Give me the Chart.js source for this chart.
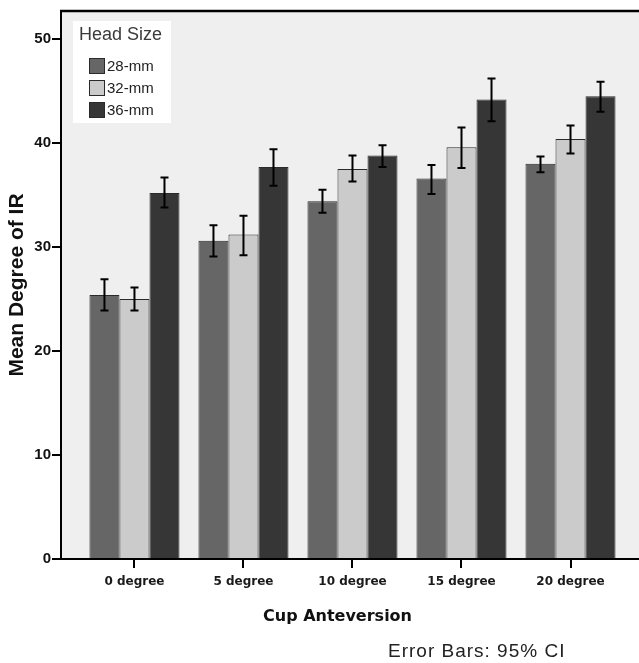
<!DOCTYPE html>
<html><head><meta charset="utf-8">
<style>html,body{margin:0;padding:0;background:#fff;}canvas{display:block;}</style>
<script src="https://cdn.jsdelivr.net/npm/chart.js@4.4.1/dist/chart.umd.min.js"></script>
</head><body>
<canvas id="c" width="639" height="663"></canvas>
<script>
const categories = ['0 degree', '5 degree', '10 degree', '15 degree', '20 degree'];
const seriesNames = ['28-mm', '32-mm', '36-mm'];
const mean28 = [25.4, 30.6, 34.4, 36.6, 38.0];
const mean32 = [25.0, 31.2, 37.5, 39.6, 40.4];
const mean36 = [35.2, 37.7, 38.8, 44.2, 44.5];
const ciLow28 = [23.9, 29.1, 33.3, 35.1, 37.2];
const ciHigh28 = [26.9, 32.1, 35.5, 37.9, 38.7];
const ciLow32 = [23.9, 29.2, 36.3, 37.6, 39.0];
const ciHigh32 = [26.1, 33.0, 38.8, 41.5, 41.7];
const ciLow36 = [33.8, 35.9, 37.7, 42.1, 43.0];
const ciHigh36 = [36.7, 39.4, 39.8, 46.2, 45.9];
const yTicks = [0, 10, 20, 30, 40, 50];

const fills = ['#666666', '#cbcbcb', '#363636'];
const means = [mean28, mean32, mean36];
const lows = [ciLow28, ciLow32, ciLow36];
const highs = [ciHigh28, ciHigh32, ciHigh36];

const datasets = seriesNames.map((name, s) => ({
  label: name,
  data: categories.map((c, i) => ({x: i, y: means[s][i]})),
  ciLow: lows[s],
  ciHigh: highs[s],
  backgroundColor: fills[s],
  borderColor: '#2a2a2a',
  borderWidth: 1,
  barPercentage: 1.0,
  categoryPercentage: 0.826,
  clip: false
}));

const framePlugin = {
  id: 'frame',
  beforeDraw(chart) {
    const {ctx, chartArea: a} = chart;
    ctx.save();
    ctx.fillStyle = '#efefef';
    ctx.fillRect(a.left, a.top, chart.width - a.left, a.bottom - a.top);
    ctx.strokeStyle = '#000';
    ctx.lineWidth = 2.5;
    ctx.beginPath();
    ctx.moveTo(a.left - 1, a.top);
    ctx.lineTo(chart.width, a.top);
    ctx.stroke();
    ctx.restore();
  },
  afterDraw(chart) {
    const {ctx, chartArea: a} = chart;
    ctx.save();
    // continue x axis line to the edge of the frame
    const yAxis = Math.round(chart.scales.x.top);
    ctx.strokeStyle = '#000';
    ctx.lineWidth = 2;
    ctx.beginPath();
    ctx.moveTo(a.right - 2, yAxis);
    ctx.lineTo(chart.width, yAxis);
    ctx.stroke();
    // legend box
    ctx.fillStyle = '#ffffff';
    ctx.fillRect(73, 21, 98, 102);
    ctx.fillStyle = '#3a3a3a';
    ctx.font = '18px "Liberation Sans"';
    ctx.textBaseline = 'alphabetic';
    ctx.textAlign = 'left';
    ctx.fillText('Head Size', 79, 40);
    chart.data.datasets.forEach((ds, k) => {
      const y = 58 + k * 22;
      ctx.fillStyle = ds.backgroundColor;
      ctx.fillRect(89, y, 16, 16);
      ctx.strokeStyle = '#2a2a2a';
      ctx.lineWidth = 1;
      ctx.strokeRect(89.5, y + 0.5, 15, 15);
      ctx.fillStyle = '#222';
      ctx.font = '15px "Liberation Sans"';
      ctx.textBaseline = 'middle';
      ctx.fillText(ds.label, 107, y + 8.5);
    });
    // footnote
    ctx.fillStyle = '#222';
    ctx.font = '19px "Liberation Sans"';
    if ('letterSpacing' in ctx) ctx.letterSpacing = '1px';
    ctx.textBaseline = 'middle';
    ctx.fillText('Error Bars: 95% CI', 388, 652);
    ctx.restore();
  }
};

const errorBarPlugin = {
  id: 'errbars',
  afterDatasetsDraw(chart) {
    const ctx = chart.ctx;
    const yScale = chart.scales.y;
    ctx.save();
    ctx.strokeStyle = '#000';
    ctx.lineWidth = 2;
    chart.data.datasets.forEach((ds, s) => {
      const meta = chart.getDatasetMeta(s);
      meta.data.forEach((bar, i) => {
        const x = bar.x;
        const yl = yScale.getPixelForValue(ds.ciLow[i]);
        const yh = yScale.getPixelForValue(ds.ciHigh[i]);
        ctx.beginPath();
        ctx.moveTo(x, yl); ctx.lineTo(x, yh);
        ctx.moveTo(x - 4, yl); ctx.lineTo(x + 4, yl);
        ctx.moveTo(x - 4, yh); ctx.lineTo(x + 4, yh);
        ctx.stroke();
      });
    });
    ctx.restore();
  }
};

new Chart(document.getElementById('c'), {
  type: 'bar',
  data: {datasets},
  options: {
    responsive: false,
    devicePixelRatio: 1,
    animation: false,
    layout: {padding: {top: 11, left: 0, right: 25, bottom: 0}},
    plugins: {legend: {display: false}, tooltip: {enabled: false}},
    scales: {
      x: {
        type: 'linear',
        min: -0.674,
        max: 4.399,
        offset: false,
        afterBuildTicks: s => { s.ticks = categories.map((c, i) => ({value: i})); },
        afterFit: s => { s.height = 104; },
        ticks: {
          callback: v => categories[v],
          autoSkip: false, maxRotation: 0, minRotation: 0,
          font: {family: 'DejaVu Sans', size: 12, weight: 'bold'},
          color: '#1a1a1a',
          padding: 7
        },
        grid: {drawOnChartArea: false, drawTicks: true, tickLength: 9, color: '#000', lineWidth: 2, offset: false},
        border: {display: true, color: '#000', width: 2},
        title: {
          display: true, text: 'Cup Anteversion',
          font: {family: 'DejaVu Sans', size: 16, weight: 'bold'},
          color: '#111',
          padding: {top: 0, bottom: 37}
        }
      },
      y: {
        min: 0,
        max: 52.7,
        afterBuildTicks: s => { s.ticks = yTicks.map(v => ({value: v})); },
        afterFit: s => { s.width = 61; },
        ticks: {
          font: {family: 'Liberation Sans', size: 15, weight: 'bold'},
          color: '#111',
          padding: 1
        },
        grid: {drawOnChartArea: false, drawTicks: true, tickLength: 9, color: '#000', lineWidth: 2},
        border: {display: true, color: '#000', width: 2},
        title: {
          display: true, text: 'Mean Degree of IR',
          font: {family: 'Liberation Sans', size: 21, weight: 'bold'},
          color: '#111',
          padding: {top: 5, bottom: 0}
        }
      }
    }
  },
  plugins: [framePlugin, errorBarPlugin]
});
</script>
</body></html>
